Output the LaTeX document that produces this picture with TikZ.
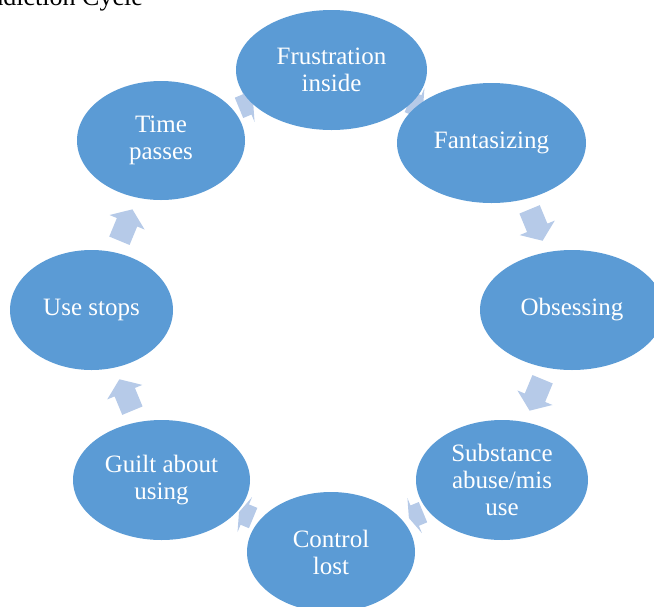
\documentclass[tikz,border=0pt]{standalone}
\usepackage{fontspec}
\setmainfont{Liberation Serif}
\usetikzlibrary{shapes.geometric}
\definecolor{nodeblue}{HTML}{5B9BD5}
\definecolor{arrowc}{HTML}{B6CAE8}
\tikzset{
  stage/.style={ellipse, fill=nodeblue, draw=none, inner sep=0pt, text=white,
    align=center, font=\fontsize{25}{27}\selectfont},
  cycarrow/.style={fill=arrowc, draw=none}
}
\begin{document}
\begin{tikzpicture}[x=1pt,y=1pt]
\useasboundingbox (0,0) rectangle (654,-606);
% title (partly cut off by the page edge)
\node[anchor=base east, inner sep=0pt, font=\fontsize{26}{28}\selectfont] (title) at (143,-5) {Addiction Cycle};
% block arrows (drawn under the ellipses)
\foreach \a/\s in {67.5/0.45,22.5/1,-22.5/1,-67.5/0.45,-112.5/0.45,-157.5/1,157.5/1,112.5/0.45}{
  \fill[cycarrow, shift={(331,-310)}, rotate=\a, xshift=222pt, rotate=-90, xscale=\s]
    (-17,-11) -- (3,-11) -- (3,-19) -- (17,0) -- (3,19) -- (3,11) -- (-17,11) -- cycle;
}
% stages
\node[stage, minimum width=191pt, minimum height=120pt] (frus) at (331.5,-70) {Frustration\\inside};
\node[stage, minimum width=189pt, minimum height=120pt] (fant) at (491.5,-143) {Fantasizing};
\node[stage, minimum width=184pt, minimum height=120pt] (obse) at (572,-310) {Obsessing};
\node[stage, minimum width=172pt, minimum height=120pt] (subs) at (502,-480) {Substance\\abuse/mis\\use};
\node[stage, minimum width=168pt, minimum height=120pt] (ctrl) at (331,-552) {Control\\lost};
\node[stage, minimum width=177pt, minimum height=120pt] (guil) at (161.5,-480) {Guilt about\\using};
\node[stage, minimum width=163pt, minimum height=120pt] (stop) at (91.5,-310) {Use stops};
\node[stage, minimum width=168pt, minimum height=119pt] (time) at (161,-140.5) {Time\\passes};
\end{tikzpicture}
\end{document}
